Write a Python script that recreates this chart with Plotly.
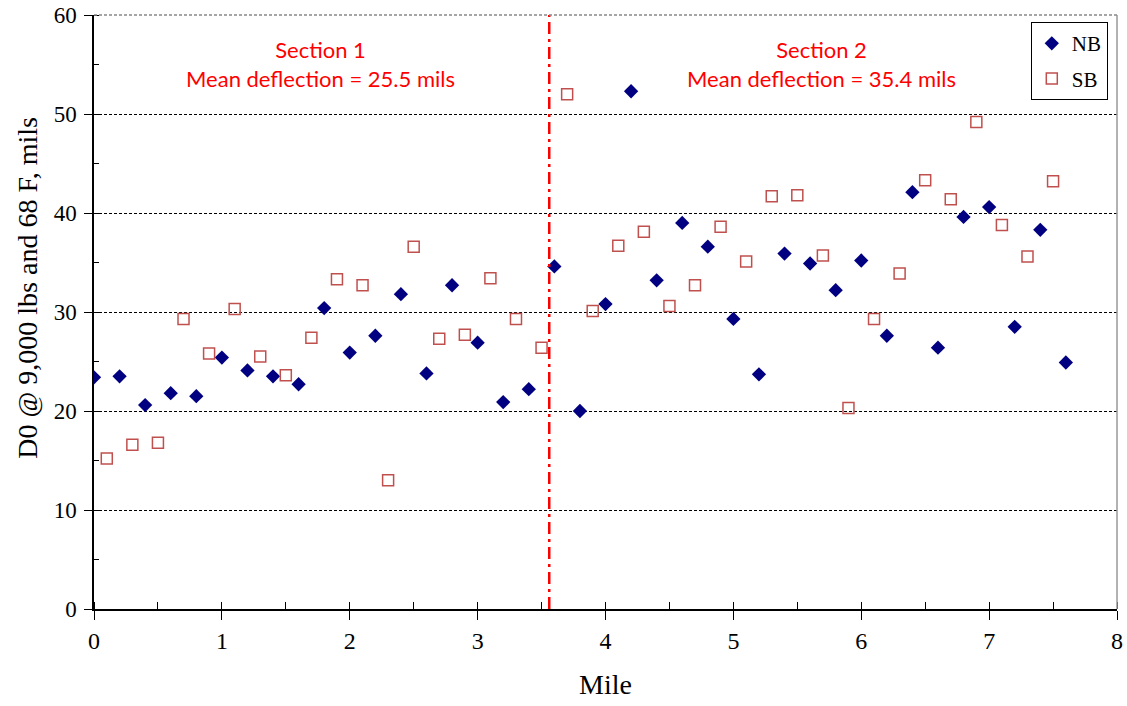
import plotly.graph_objects as go

# Milepost positions (miles)
nb_mile = [0.0, 0.2, 0.4, 0.6, 0.8, 1.0, 1.2, 1.4, 1.6, 1.8, 2.0, 2.2, 2.4, 2.6, 2.8,
           3.0, 3.2, 3.4, 3.6, 3.8, 4.0, 4.2, 4.4, 4.6, 4.8, 5.0, 5.2, 5.4, 5.6, 5.8,
           6.0, 6.2, 6.4, 6.6, 6.8, 7.0, 7.2, 7.4, 7.6]
nb_d0 = [23.4, 23.5, 20.6, 21.8, 21.5, 25.4, 24.1, 23.5, 22.7, 30.4, 25.9, 27.6, 31.8, 23.8, 32.7,
         26.9, 20.9, 22.2, 34.6, 20.0, 30.8, 52.3, 33.2, 39.0, 36.6, 29.3, 23.7, 35.9, 34.9, 32.2,
         35.2, 27.6, 42.1, 26.4, 39.6, 40.6, 28.5, 38.3, 24.9]

sb_mile = [0.1, 0.3, 0.5, 0.7, 0.9, 1.1, 1.3, 1.5, 1.7, 1.9, 2.1, 2.3, 2.5, 2.7, 2.9,
           3.1, 3.3, 3.5, 3.7, 3.9, 4.1, 4.3, 4.5, 4.7, 4.9, 5.1, 5.3, 5.5, 5.7, 5.9,
           6.1, 6.3, 6.5, 6.7, 6.9, 7.1, 7.3, 7.5]
sb_d0 = [15.2, 16.6, 16.8, 29.3, 25.8, 30.3, 25.5, 23.6, 27.4, 33.3, 32.7, 13.0, 36.6, 27.3, 27.7,
         33.4, 29.3, 26.4, 52.0, 30.1, 36.7, 38.1, 30.6, 32.7, 38.6, 35.1, 41.7, 41.8, 35.7, 20.3,
         29.3, 33.9, 43.3, 41.4, 49.2, 38.8, 35.6, 43.2]

section_boundary = 3.56
section_labels = ["Section 1<br>Mean deflection = 25.5 mils",
                  "Section 2<br>Mean deflection = 35.4 mils"]
section_label_x = [1.77, 5.69]
section_label_y = 58.1

y_title = "D0 @ 9,000 lbs and 68 F, mils"
x_title = "Mile"

serif = "Liberation Serif"

fig = go.Figure()
fig.add_trace(go.Scatter(
    x=nb_mile, y=nb_d0, mode="markers", name="NB", legendgroup="nb",
    marker=dict(symbol="diamond", size=11, color="#000080",
                line=dict(width=0))))
fig.add_trace(go.Scatter(
    x=sb_mile, y=sb_d0, mode="markers", name="SB", legendgroup="sb",
    marker=dict(symbol="square-open", size=11, color="#C0504D",
                line=dict(width=1.5))))

# section boundary
fig.add_shape(type="line", xref="x", yref="y", x0=section_boundary, x1=section_boundary,
              y0=0, y1=60, line=dict(color="#FF0000", width=2.5, dash="12px,5px,3px,5px"))
# right border and top edge of plot area
fig.add_shape(type="line", xref="paper", yref="paper", x0=1, x1=1, y0=0, y1=1,
              line=dict(color="#999999", width=1.5))
fig.add_shape(type="line", xref="paper", yref="paper", x0=0, x1=1, y0=1, y1=1,
              line=dict(color="#888888", width=1.5, dash="3px,2px"))

for txt, xv in zip(section_labels, section_label_x):
    fig.add_annotation(x=xv, y=section_label_y, xref="x", yref="y", text=txt,
                       showarrow=False, yanchor="top",
                       font=dict(family="Lato, Open Sans, sans-serif", size=22, color="#FF0000"))

# y-axis title as rotated annotation (sits slightly above the plot centre)
fig.add_annotation(x=-0.0645, y=0.541, xref="paper", yref="paper", text=y_title,
                   showarrow=False, textangle=-90, xanchor="center", yanchor="middle",
                   font=dict(family=serif, size=28, color="black"))

fig.update_layout(
    template="none",
    width=1127, height=706,
    margin=dict(l=94, r=10, t=15, b=97, autoexpand=False),
    paper_bgcolor="white", plot_bgcolor="white",
    showlegend=True,
    legend=dict(x=0.991, y=0.988, xanchor="right", yanchor="top",
                bordercolor="black", borderwidth=1, bgcolor="white",
                font=dict(family=serif, size=21, color="black"),
                tracegroupgap=5, itemwidth=30),
    font=dict(family=serif, color="black"),
)

fig.update_xaxes(
    range=[0, 8], dtick=1, tick0=0, automargin=False,
    showgrid=False, zeroline=False,
    showline=True, linecolor="black", linewidth=1.5,
    ticks="outside", ticklen=9, tickcolor="black", tickwidth=1,
    ticklabeloverflow="allow",
    minor=dict(dtick=0.5, ticks="inside", ticklen=7, tickcolor="black", showgrid=False),
    tickfont=dict(family=serif, size=24, color="black"),
    title=dict(text=x_title, font=dict(family=serif, size=28, color="black"), standoff=22),
)
fig.update_yaxes(
    range=[0, 60], dtick=10, tick0=0, automargin=False,
    showgrid=True, gridcolor="black", gridwidth=1, griddash="3px,2px",
    zeroline=False,
    showline=True, linecolor="black", linewidth=1.5,
    ticks="outside", ticklen=8, tickcolor="black", tickwidth=1,
    ticklabelstandoff=3, ticklabeloverflow="allow",
    minor=dict(dtick=5, ticks="inside", ticklen=5, tickcolor="black", showgrid=False),
    tickfont=dict(family=serif, size=23, color="black"),
)

# remove the default 8px page margin so the 1127x706 figure fills the window exactly
fig.write_html("out.html",
               config={"displayModeBar": False},
               post_script="document.body.style.margin='0';document.body.style.overflow='hidden';")
